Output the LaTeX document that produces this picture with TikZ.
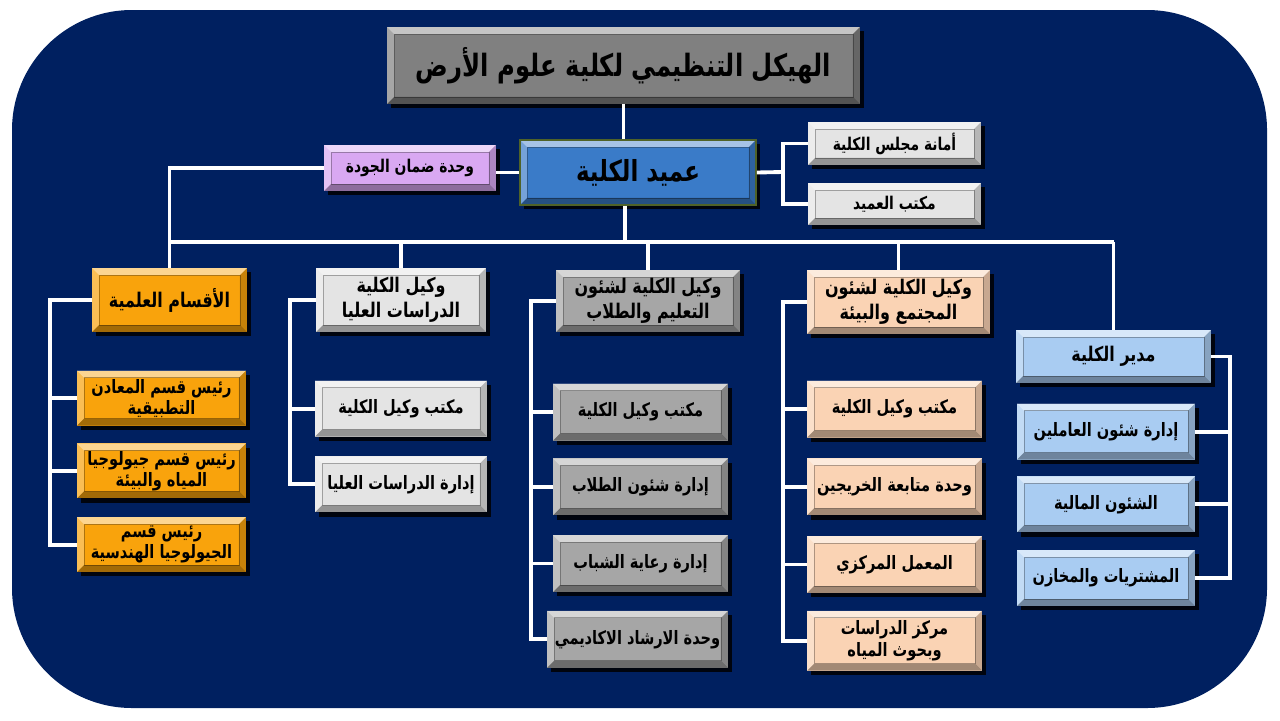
\documentclass[tikz,border=0pt]{standalone}
\usepackage{fontspec}
\usepackage{tikz}
\usetikzlibrary{positioning,shadows}
\newfontfamily\arabicfont[Script=Arabic,FakeStretch=0.79]{DejaVu Sans}
\TeXXeTstate=1
\newcommand{\artxt}[1]{\beginR#1\endR}
\newcommand{\bevelbox}{%
\fill[white,opacity=.55] (path picture bounding box.north west) -- (path picture bounding box.north east) -- ([xshift=-0.14cm,yshift=-0.14cm]path picture bounding box.north east) -- ([xshift=0.14cm,yshift=-0.14cm]path picture bounding box.north west) -- cycle;
\fill[white,opacity=.3] (path picture bounding box.north west) -- ([xshift=0.14cm,yshift=-0.14cm]path picture bounding box.north west) -- ([xshift=0.14cm,yshift=0.14cm]path picture bounding box.south west) -- (path picture bounding box.south west) -- cycle;
\fill[black,opacity=.35] (path picture bounding box.south west) -- ([xshift=0.14cm,yshift=0.14cm]path picture bounding box.south west) -- ([xshift=-0.14cm,yshift=0.14cm]path picture bounding box.south east) -- (path picture bounding box.south east) -- cycle;
\fill[black,opacity=.2] (path picture bounding box.south east) -- ([xshift=-0.14cm,yshift=0.14cm]path picture bounding box.south east) -- ([xshift=-0.14cm,yshift=-0.14cm]path picture bounding box.north east) -- (path picture bounding box.north east) -- cycle;
\draw[black,opacity=.3,line width=.4pt] ([xshift=0.14cm,yshift=0.14cm]path picture bounding box.south west) rectangle ([xshift=-0.14cm,yshift=-0.14cm]path picture bounding box.north east);}
\definecolor{navy}{HTML}{002060}
\definecolor{titlegray}{HTML}{808080}
\definecolor{deanblue}{HTML}{3A7BC8}
\definecolor{deanedge}{HTML}{4F6228}
\definecolor{lavender}{HTML}{D9A8F2}
\definecolor{silver}{HTML}{E4E4E4}
\definecolor{amber}{HTML}{F9A30C}
\definecolor{stone}{HTML}{A6A6A6}
\definecolor{peach}{HTML}{FAD3B4}
\definecolor{sky}{HTML}{A9CCF2}
\tikzstyle{unit} = [rectangle, align=center, inner sep=2pt, text=black,
drop shadow={shadow xshift=2.5pt, shadow yshift=-2.5pt, opacity=.85, fill=black},
path picture={\bevelbox}]
\tikzstyle{headtxt} = [font=\arabicfont\bfseries\fontsize{11.5}{14}\selectfont]
\tikzstyle{subtxt} = [font=\arabicfont\bfseries\fontsize{10.5}{13}\selectfont]
\tikzstyle{smalltxt} = [font=\arabicfont\bfseries\fontsize{10}{12}\selectfont]
\tikzstyle{acad} = [unit, fill=amber, font=\arabicfont\bfseries\fontsize{10.5}{12}\selectfont, minimum width=3.38cm, minimum height=1.1cm]
\tikzstyle{grad} = [unit, fill=silver, subtxt, minimum width=3.44cm, minimum height=1.12cm]
\tikzstyle{edu} = [unit, fill=stone, subtxt, minimum width=3.5cm, minimum height=1.14cm]
\tikzstyle{comm} = [unit, fill=peach, subtxt, minimum width=3.5cm, minimum height=1.14cm]
\tikzstyle{mgr} = [unit, fill=sky, subtxt, minimum width=3.56cm, minimum height=1.12cm]
\tikzstyle{link} = [draw=white, line width=2.2pt]

\begin{document}
\begin{tikzpicture}[x=0.02cm, y=-0.02cm]
\useasboundingbox (0,0) rectangle (1280,720);
\fill[navy, rounded corners=2.4cm] (12,10) rectangle (1267,708);

\node(title)[unit, fill=titlegray, minimum width=9.46cm, minimum height=1.54cm,
  font=\arabicfont\bfseries\fontsize{17.5}{20}\selectfont] at (623.5,65.5) {\artxt{الهيكل التنظيمي لكلية علوم الأرض}};
\node(dean)[unit, fill=deanblue, draw=deanedge, line width=1pt, minimum width=4.72cm, minimum height=1.3cm,
  font=\arabicfont\bfseries\fontsize{16.5}{19}\selectfont] at (638,172.5) {\artxt{عميد الكلية}};
\node(quality)[unit, fill=lavender, smalltxt, minimum width=3.44cm, minimum height=0.92cm] at (410,168) {\artxt{وحدة ضمان الجودة}};
\node(council)[unit, fill=silver, smalltxt, minimum width=3.46cm, minimum height=0.86cm] at (894.5,143.5) {\artxt{أمانة مجلس الكلية}};
\node(deanoffice)[unit, fill=silver, smalltxt, minimum width=3.46cm, minimum height=0.84cm] at (894.5,204) {\artxt{مكتب العميد}};

\node(acadhead)[unit, fill=amber, headtxt, minimum width=3.1cm, minimum height=1.28cm] at (169.5,300) {\artxt{الأقسام العلمية}};
\node(acad1)[acad, below=0.76cm of acadhead, xshift=-0.16cm]{\artxt{رئيس قسم المعادن}\\\artxt{التطبيقية}};
\node(acad2)[acad, below=0.34cm of acad1]{\artxt{رئيس قسم جيولوجيا}\\\artxt{المياه والبيئة}};
\node(acad3)[acad, below=0.36cm of acad2]{\artxt{رئيس قسم}\\\artxt{الجيولوجيا الهندسية}};

\node(gradhead)[unit, fill=silver, headtxt, minimum width=3.4cm, minimum height=1.28cm] at (401,300) {\artxt{وكيل الكلية}\\\artxt{الدراسات العليا}};
\node(grad1)[grad, below=0.96cm of gradhead]{\artxt{مكتب وكيل الكلية}};
\node(grad2)[grad, below=0.38cm of grad1]{\artxt{إدارة الدراسات العليا}};

\node(eduhead)[unit, fill=stone, headtxt, minimum width=3.68cm, minimum height=1.24cm] at (648,301) {\artxt{وكيل الكلية لشئون}\\\artxt{التعليم والطلاب}};
\node(edu1)[edu, below=1.02cm of eduhead, xshift=-0.15cm]{\artxt{مكتب وكيل الكلية}};
\node(edu2)[edu, below=0.34cm of edu1]{\artxt{إدارة شئون الطلاب}};
\node(edu3)[edu, below=0.38cm of edu2]{\artxt{إدارة رعاية الشباب}};
\node(edu4)[edu, below=0.36cm of edu3, minimum width=3.62cm, xshift=-0.06cm]{\artxt{وحدة الارشاد الاكاديمي}};

\node(commhead)[unit, fill=peach, headtxt, minimum width=3.66cm, minimum height=1.28cm] at (898.5,302) {\artxt{وكيل الكلية لشئون}\\\artxt{المجتمع والبيئة}};
\node(comm1)[comm, below=0.92cm of commhead, xshift=-0.08cm]{\artxt{مكتب وكيل الكلية}};
\node(comm2)[comm, below=0.4cm of comm1]{\artxt{وحدة متابعة الخريجين}};
\node(comm3)[comm, below=0.4cm of comm2]{\artxt{المعمل المركزي}};
\node(comm4)[comm, below=0.34cm of comm3, minimum height=1.2cm]{\artxt{مركز الدراسات}\\\artxt{وبحوث المياه}};

\node(mgrhead)[unit, fill=sky, headtxt, minimum width=3.9cm, minimum height=1.06cm] at (1113.5,356.5) {\artxt{مدير الكلية}};
\node(mgr1)[mgr, below=0.4cm of mgrhead, xshift=-0.15cm]{\artxt{إدارة شئون العاملين}};
\node(mgr2)[mgr, below=0.32cm of mgr1]{\artxt{الشئون المالية}};
\node(mgr3)[mgr, below=0.34cm of mgr2]{\artxt{المشتريات والمخازن}};

\coordinate(bus) at (625,242);
\coordinate(deanjoin) at (783,172);
\draw[link] (title.south) -- (title.south |- dean.north);
\draw[link] (dean.south -| bus) -- (bus);
\draw[link] (dean.west) -- (dean.west -| quality.east);
\draw[link] (dean.east) -- (deanjoin);
\draw[link] (council.west) -| (deanjoin) |- (deanoffice.west);
\draw[link] (quality.west) -| (acadhead.north);
\draw[link] (acadhead.north |- bus) -- (mgrhead.north |- bus);
\foreach \h in {gradhead,eduhead,commhead,mgrhead}
  \draw[link] (\h.north) -- (\h.north |- bus);

\coordinate(acadbar) at ([xshift=-0.84cm]acadhead.west);
\draw[link] (acadhead.west) -- (acadbar) |- (acad3.west);
\foreach \c in {acad1,acad2}
  \draw[link] (\c.west) -- (\c.west -| acadbar);
\coordinate(gradbar) at ([xshift=-0.52cm]gradhead.west);
\draw[link] (gradhead.west) -- (gradbar) |- (grad2.west);
\draw[link] (grad1.west) -- (grad1.west -| gradbar);
\coordinate(edubar) at ([xshift=-0.5cm]eduhead.west);
\draw[link] (eduhead.west) -- (edubar) |- (edu4.west);
\foreach \c in {edu1,edu2,edu3}
  \draw[link] (\c.west) -- (\c.west -| edubar);
\coordinate(commbar) at ([xshift=-0.48cm]commhead.west);
\draw[link] (commhead.west) -- (commbar) |- (comm4.west);
\foreach \c in {comm1,comm2,comm3}
  \draw[link] (\c.west) -- (\c.west -| commbar);
\coordinate(mgrbar) at ([xshift=0.38cm]mgrhead.east);
\draw[link] (mgrhead.east) -- (mgrbar) |- (mgr3.east);
\foreach \c in {mgr1,mgr2}
  \draw[link] (\c.east) -- (\c.east -| mgrbar);
\end{tikzpicture}
\end{document}
